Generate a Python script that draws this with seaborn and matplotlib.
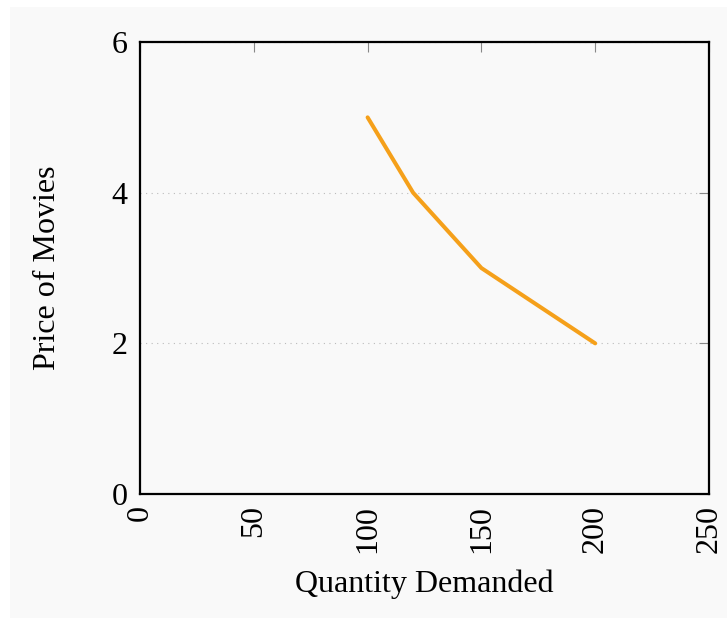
import pandas as pd
import matplotlib
matplotlib.use("Agg")
import matplotlib.pyplot as plt
from matplotlib.patches import Rectangle
import seaborn as sns

quantity = [100, 120, 150, 200]
price = [5, 4, 3, 2]
x_ticks = [0, 50, 100, 150, 200, 250]
y_ticks = [0, 2, 4, 6]

df = pd.DataFrame({"Quantity Demanded": quantity, "Price of Movies": price})

sns.set_style("white")
plt.rcParams["font.family"] = ["Liberation Serif", "DejaVu Serif"]
plt.rcParams["text.color"] = "black"
plt.rcParams["axes.labelcolor"] = "black"
plt.rcParams["xtick.labelcolor"] = "black"
plt.rcParams["ytick.labelcolor"] = "black"

bg = "#f9f9f9"
fig = plt.figure(figsize=(7.27, 6.18), dpi=100, facecolor="white")
# light grey panel behind everything, white strip on left and top
fig.patches.append(Rectangle((10 / 727, -0.1), 1, 1.1 - 7 / 618,
                             transform=fig.transFigure, facecolor=bg,
                             edgecolor="none", zorder=-10))
ax = fig.add_axes([0.1926, 0.2006, 0.7826, 0.7314])
ax.set_facecolor(bg)

sns.lineplot(data=df, x="Quantity Demanded", y="Price of Movies", ax=ax,
             color="#f5a01a", linewidth=2.9, sort=False)

ax.set_xlim(0, 250)
ax.set_ylim(0, 6)
ax.set_xticks(x_ticks)
ax.set_yticks(y_ticks)
ax.set_xticklabels([str(t) for t in x_ticks], rotation=90, fontsize=23)
ax.set_yticklabels([str(t) for t in y_ticks], fontsize=23)
ax.set_xlabel("Quantity Demanded", fontsize=23, labelpad=12)
ax.set_ylabel("Price of Movies", fontsize=23, labelpad=36)

ax.yaxis.grid(True, linestyle=(0, (1, 4)), color="#bbbbbb", linewidth=0.8)
ax.xaxis.grid(False)

ax.tick_params(axis="both", direction="in", length=7, width=0.8,
               color="#888888", top=True, right=True)
ax.tick_params(axis="x", pad=8)
ax.tick_params(axis="y", pad=9)
for s in ax.spines.values():
    s.set_color("black")
    s.set_linewidth(1.6)

fig.savefig("out.png", dpi=100, facecolor="white")
